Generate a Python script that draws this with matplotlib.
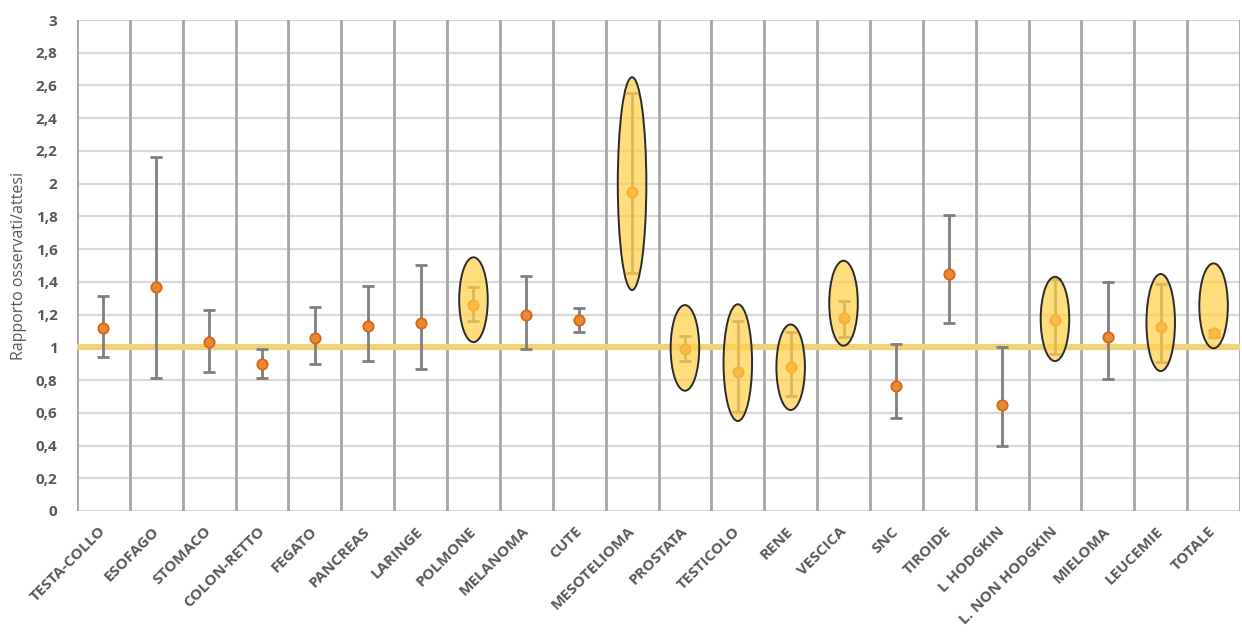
import matplotlib
matplotlib.use("Agg")
import matplotlib.pyplot as plt
from matplotlib.patches import Ellipse
import numpy as np

categories = ["TESTA-COLLO", "ESOFAGO", "STOMACO", "COLON-RETTO", "FEGATO", "PANCREAS",
              "LARINGE", "POLMONE", "MELANOMA", "CUTE", "MESOTELIOMA", "PROSTATA",
              "TESTICOLO", "RENE", "VESCICA", "SNC", "TIROIDE", "L HODGKIN",
              "L. NON HODGKIN", "MIELOMA", "LEUCEMIE", "TOTALE"]
ratio = [1.116, 1.37, 1.03, 0.896, 1.055, 1.132, 1.15, 1.258, 1.20, 1.167, 1.95, 0.99,
         0.851, 0.878, 1.177, 0.765, 1.448, 0.646, 1.167, 1.061, 1.126, 1.086]
ci_low = [0.94, 0.812, 0.847, 0.814, 0.898, 0.914, 0.866, 1.162, 0.99, 1.093, 1.452, 0.916,
          0.607, 0.704, 1.065, 0.566, 1.147, 0.397, 0.959, 0.804, 0.908, 1.061]
ci_high = [1.315, 2.164, 1.228, 0.99, 1.248, 1.374, 1.503, 1.366, 1.436, 1.24, 2.555, 1.069,
           1.163, 1.095, 1.283, 1.018, 1.808, 1.004, 1.42, 1.397, 1.385, 1.106]

# highlighted categories (ellipses): category name, lower and upper extent
highlight = ["POLMONE", "MESOTELIOMA", "PROSTATA", "TESTICOLO", "RENE", "VESCICA",
             "L. NON HODGKIN", "LEUCEMIE", "TOTALE"]
highlight_low = [1.032, 1.35, 0.735, 0.55, 0.617, 1.01, 0.916, 0.855, 0.994]
highlight_high = [1.55, 2.65, 1.258, 1.263, 1.14, 1.529, 1.431, 1.448, 1.513]

yticks = [0, 0.2, 0.4, 0.6, 0.8, 1, 1.2, 1.4, 1.6, 1.8, 2, 2.2, 2.4, 2.6, 2.8, 3]
ytick_labels = ["0", "0,2", "0,4", "0,6", "0,8", "1", "1,2", "1,4", "1,6", "1,8", "2",
                "2,2", "2,4", "2,6", "2,8", "3"]
reference_value = 1.0

plt.rcParams['font.family'] = ['Open Sans', 'DejaVu Sans']

fig = plt.figure(figsize=(12.42, 6.41), dpi=100)
ax = fig.add_axes([77/1242, 1 - 511/641, (1240 - 77)/1242, (511 - 20)/641])

n = len(categories)
x = np.arange(n)
ax.set_xlim(-0.5, n - 0.5)
ax.set_ylim(0, 3)

# grid
for yv in yticks:
    ax.axhline(yv, color="#d9d9d9", lw=1.6, zorder=0)
for b in np.arange(n + 1) - 0.5:
    ax.axvline(b, color="#a6a6a6", lw=2.0, zorder=1)

# reference line
ax.axhline(reference_value, color="#efd37a", lw=4.5, zorder=2)

yerr = [np.array(ratio) - np.array(ci_low), np.array(ci_high) - np.array(ratio)]
ax.errorbar(x, ratio, yerr=yerr, fmt="none", ecolor="#7f7f7f", elinewidth=2.0,
            capsize=4, capthick=2.0, zorder=3)
ax.scatter(x, ratio, s=55, color="#ea8a30", edgecolors="#d9641a", linewidths=1.3, zorder=4)

for name, lo, hi in zip(highlight, highlight_low, highlight_high):
    i = categories.index(name)
    e = Ellipse((i, (lo + hi) / 2), width=0.54, height=hi - lo,
                facecolor="#ffcf4a", alpha=0.72, edgecolor="none", zorder=5)
    ax.add_patch(e)
    e2 = Ellipse((i, (lo + hi) / 2), width=0.54, height=hi - lo,
                 facecolor="none", edgecolor="#2a2a2a", lw=1.4, zorder=6)
    ax.add_patch(e2)

for s in ax.spines.values():
    s.set_visible(False)

ax.set_yticks(yticks)
ax.set_yticklabels(ytick_labels, fontsize=11, fontweight="bold", color="#595959")
ax.set_xticks(x)
ax.set_xticklabels(categories, rotation=45, ha="right", va="center", rotation_mode="anchor",
                   fontsize=11, fontweight="bold", color="#595959")
ax.tick_params(axis="y", length=0, pad=14)
ax.tick_params(axis="x", length=0, pad=13)
ax.set_ylabel("Rapporto osservati/attesi", fontsize=11.5, color="#595959", labelpad=6)

fig.savefig("out.png", dpi=100)
